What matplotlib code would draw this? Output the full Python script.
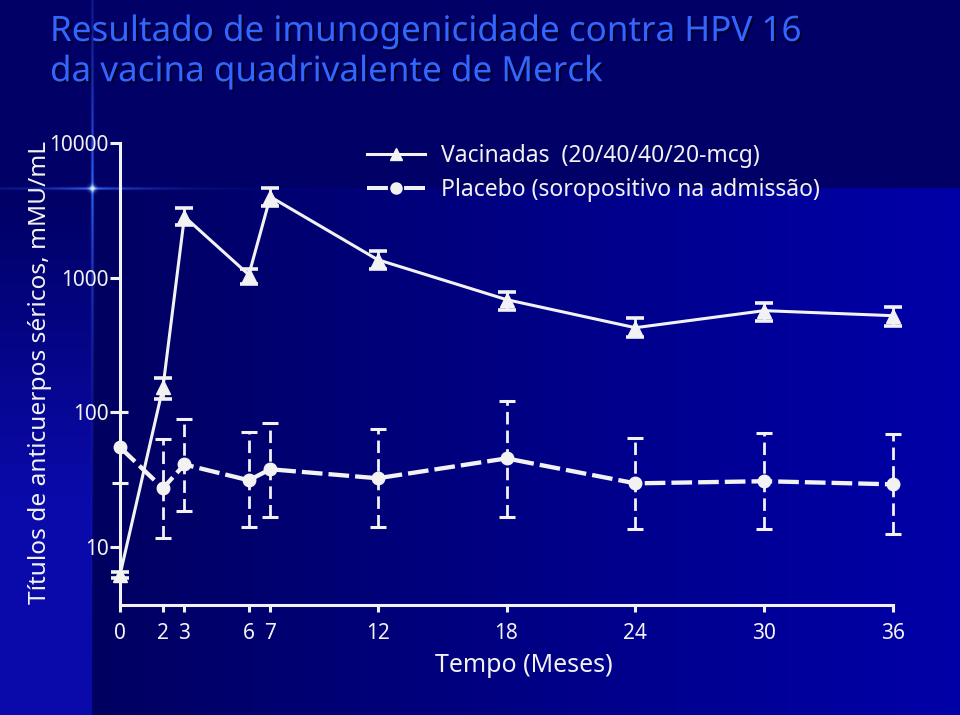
import numpy as np
import matplotlib
matplotlib.use('Agg')
import matplotlib.pyplot as plt
import matplotlib.patheffects as pe
from matplotlib.lines import Line2D
from matplotlib.ticker import NullLocator

plt.rcParams['font.family'] = ['Noto Sans', 'DejaVu Sans']

# meses de seguimento
months = [0, 2, 3, 6, 7, 12, 18, 24, 30, 36]
xtick_labels = ['0', '2', '3', '6', '7', '12', '18', '24', '30', '36']

# vacinadas (GMT e limites do IC)
vac_gmt = [6.2, 153, 2840, 1050, 3990, 1360, 687, 425, 569, 522]
vac_low = [5.9, 125, 2470, 902, 3430, 1166, 578, 365, 480, 441]
vac_high = [6.5, 179, 3310, 1166, 4660, 1586, 787, 505, 652, 610]

# placebo soropositivo
pla_gmt = [55, 27.3, 41, 31.3, 37.8, 32.4, 45.5, 29.7, 30.8, 29.2]
pla_low = [29.7, 11.6, 18.4, 14.0, 16.6, 14.0, 16.6, 13.5, 13.5, 12.5]
pla_high = [100, 63, 90, 71, 84, 74.8, 121, 65, 70, 68.7]

yticks = [10, 100, 1000, 10000]
ytick_labels = ['10', '100', '1000', '10000']

labels = ['Vacinadas  (20/40/40/20-mcg)', 'Placebo (soropositivo na admissão)']

fg = '#f2f2f2'
W, H = 960, 715

fig = plt.figure(figsize=(9.6, 7.15), dpi=100)

# fundo azul com gradiente e brilho
yy, xx = np.mgrid[0:H, 0:W].astype(float)
blue = np.full((H, W), 0.40)
t = np.clip((xx - 92) / (W - 92), 0, 1)
blue = np.where(yy >= 188, 0.38 + 0.28 * t, blue)
left = np.clip((yy - 200) / 300, 0, 1)
strip = (xx < 92) & (yy >= 188)
blue = np.where(strip, 0.40 + 0.27 * left, blue)
rg = np.where(strip, 0.04 * left, 0.0)
img = np.dstack([rg, rg, blue])
gv = np.exp(-((xx - 92) / 1.3) ** 2) * np.exp(-np.abs(yy - 188) / 140)
gh = np.exp(-((yy - 188) / 1.3) ** 2) * np.exp(-np.abs(xx - 92) / 55)
gc = np.exp(-((xx - 92) ** 2 + (yy - 188) ** 2) / (2 * 2.5 ** 2))
glow = np.clip(gv + gh, 0, 1)
img = img + glow[..., None] * np.array([0.2, 0.4, 0.6]) + gc[..., None] * np.array([0.6, 0.6, 0.3])
img = np.clip(img, 0, 1)
bg = fig.add_axes([0, 0, 1, 1], zorder=-10)
bg.imshow(img, aspect='auto', interpolation='bilinear')
bg.axis('off')

ax = fig.add_axes([120 / W, 1 - 605 / H, (893 - 120) / W, (605 - 143) / H])
ax.set_facecolor('none')
ax.set_yscale('log')
ax.set_xlim(0, 36)
ax.set_ylim(3.71, 10000)

vac_err = [np.array(vac_gmt) - np.array(vac_low), np.array(vac_high) - np.array(vac_gmt)]
pla_err = [np.array(pla_gmt) - np.array(pla_low), np.array(pla_high) - np.array(pla_gmt)]

c1 = ax.errorbar(months, vac_gmt, yerr=vac_err, color=fg, lw=2.2, marker='^', ms=10,
                 capsize=6.5, capthick=2.6, elinewidth=2, zorder=4)
c2 = ax.errorbar(months, pla_gmt, yerr=pla_err, color=fg, lw=3.1, ls=(0, (4.8, 1.4)),
                 marker='o', ms=9, capsize=5.5, capthick=2.2, elinewidth=2, zorder=3)
c2[2][0].set_linestyle((0, (4.5, 2.2)))
for c in (c1, c2):
    for art in c.get_children():
        art.set_clip_on(False)

for s in ['top', 'right']:
    ax.spines[s].set_visible(False)
for s in ['left', 'bottom']:
    ax.spines[s].set_color(fg)
    ax.spines[s].set_linewidth(2.2)

ax.set_xticks(months)
ax.set_xticklabels(xtick_labels)
ax.set_yticks(yticks)
ax.set_yticklabels(ytick_labels)
ax.yaxis.set_minor_locator(NullLocator())
ax.tick_params(axis='x', direction='out', length=5, width=2.2, colors=fg, labelsize=15, pad=8)
ax.tick_params(axis='y', direction='out', length=7, width=2.2, colors=fg, labelsize=15, pad=1)

fig.text(524 / W, 1 - 665 / H, 'Tempo (Meses)', ha='center', va='center', fontsize=18, color=fg)
fig.text(40 / W, 1 - 372 / H, 'Títulos de anticuerpos séricos, mMU/mL', ha='center', va='center',
         rotation=90, fontsize=17.6, color=fg)

fig.text(50 / W, 1 - 15 / H, 'Resultado de imunogenicidade contra HPV 16\nda vacina quadrivalente de Merck',
         ha='left', va='top', fontsize=25.2, color='#3366ff', linespacing=1.24,
         path_effects=[pe.withSimplePatchShadow(offset=(1.5, -1.5), shadow_rgbFace='#000022', alpha=0.8)])

h1 = Line2D([], [], color=fg, lw=2.2, marker='^', ms=9)
h2 = Line2D([], [], color=fg, lw=2.9, ls=(0, (5.2, 4.0)), marker='o', ms=8)
fig.legend([h1, h2], labels, loc='upper left', bbox_to_anchor=(367 / W, 1 - 144 / H),
           frameon=False, fontsize=16.5, handlelength=2.53, handletextpad=0.7,
           labelspacing=0.42, borderpad=0, borderaxespad=0, labelcolor=fg)

fig.savefig('out.png', dpi=100)
